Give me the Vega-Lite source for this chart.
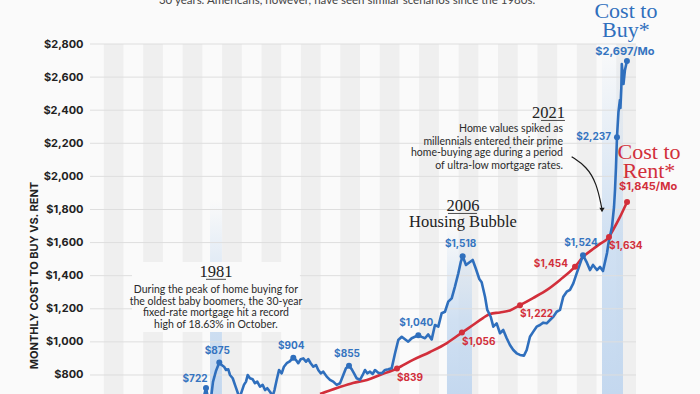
{
  "$schema": "https://vega.github.io/schema/vega-lite/v6.json",
  "width": 546,
  "height": 350,
  "autosize": {"type": "none"},
  "padding": {"left": 90, "top": 44, "right": 64, "bottom": 0},
  "background": "#fafafa",
  "config": {
    "view": {"stroke": null},
    "axisY": {"labelOverlap": false, "labelFlush": false, "labelBound": false, "grid": false, "ticks": false, "tickSize": 0, "domain": false,
      "labelFont": "Inter", "labelFontWeight": 700, "labelFontSize": 11, "labelColor": "#222222", "labelPadding": 7, "tickCount": 11,
      "titleFont": "Inter", "titleFontWeight": 700, "titleFontSize": 11, "titleColor": "#222222"}
  },
  "datasets": {
    "stripes": [
      {"start": 1970, "end": 1972}, {"start": 1974, "end": 1976}, {"start": 1978, "end": 1980},
      {"start": 1982, "end": 1984}, {"start": 1986, "end": 1988}, {"start": 1990, "end": 1992},
      {"start": 1994, "end": 1996}, {"start": 1998, "end": 2000}, {"start": 2002, "end": 2004},
      {"start": 2006, "end": 2008}, {"start": 2010, "end": 2012}, {"start": 2014, "end": 2016},
      {"start": 2018, "end": 2020}, {"start": 2022, "end": 2024}
    ],
    "bands": [
      {"start": 1980.78, "end": 1981.99, "top": 1857},
      {"start": 2004.82, "end": 2007.36, "top": 1700},
      {"start": 2020.55, "end": 2022.68, "top": 2800}
    ],
    "grid": [{"v": 800}, {"v": 1000}, {"v": 1200}, {"v": 1400}, {"v": 1600}, {"v": 1800}, {"v": 2000}, {"v": 2200}, {"v": 2400}, {"v": 2600}, {"v": 2800}],
    "backdrop": [{"t1": 1972.86, "t2": 1989.9, "v1": 1060, "v2": 1483}],
    "arrow": [{"t": 2017.47, "v": 2119}, {"t": 2018.99, "v": 2059}, {"t": 2020.01, "v": 1958}, {"t": 2020.52, "v": 1810}],
    "arrowhead": [{"t": 2020.55, "v": 1797}],
    "buy": [
      {"t":1980.07,"v":649},{"t":1980.37,"v":722},{"t":1980.57,"v":661},{"t":1980.88,"v":661},{"t":1981.08,"v":758},
      {"t":1981.38,"v":824},{"t":1981.72,"v":875},{"t":1981.96,"v":860},{"t":1982.2,"v":850},{"t":1982.4,"v":830},
      {"t":1982.63,"v":834},{"t":1982.8,"v":800},{"t":1983.08,"v":780},{"t":1983.31,"v":740},{"t":1983.55,"v":699},
      {"t":1983.77,"v":661},{"t":1983.99,"v":699},{"t":1984.22,"v":740},{"t":1984.43,"v":760},{"t":1984.6,"v":800},
      {"t":1984.83,"v":780},{"t":1985.11,"v":774},{"t":1985.34,"v":750},{"t":1985.57,"v":760},{"t":1985.85,"v":729},
      {"t":1986.12,"v":740},{"t":1986.36,"v":709},{"t":1986.59,"v":720},{"t":1986.86,"v":699},{"t":1987.14,"v":673},
      {"t":1987.32,"v":709},{"t":1987.54,"v":770},{"t":1987.78,"v":830},{"t":1988.05,"v":810},{"t":1988.28,"v":850},
      {"t":1988.56,"v":871},{"t":1988.82,"v":880},{"t":1989.23,"v":904},{"t":1989.5,"v":891},{"t":1989.73,"v":871},
      {"t":1989.98,"v":895},{"t":1990.24,"v":900},{"t":1990.52,"v":880},{"t":1990.75,"v":895},{"t":1990.99,"v":871},
      {"t":1991.26,"v":850},{"t":1991.53,"v":860},{"t":1991.76,"v":830},{"t":1992.01,"v":810},{"t":1992.27,"v":820},
      {"t":1992.62,"v":790},{"t":1992.95,"v":770},{"t":1993.28,"v":760},{"t":1993.63,"v":740},{"t":1993.97,"v":750},
      {"t":1994.3,"v":800},{"t":1994.57,"v":840},{"t":1994.88,"v":855},{"t":1995.15,"v":835},{"t":1995.39,"v":810},
      {"t":1995.66,"v":780},{"t":1995.99,"v":770},{"t":1996.27,"v":800},{"t":1996.5,"v":830},{"t":1996.73,"v":810},
      {"t":1997.01,"v":820},{"t":1997.28,"v":806},{"t":1997.52,"v":830},{"t":1997.85,"v":814},{"t":1998.2,"v":810},
      {"t":1998.53,"v":830},{"t":1998.87,"v":834},{"t":1999.21,"v":840},{"t":1999.55,"v":931},{"t":1999.88,"v":1011},
      {"t":2000.23,"v":1031},{"t":2000.56,"v":1016},{"t":2000.89,"v":1001},{"t":2001.24,"v":1022},{"t":2001.57,"v":1031},
      {"t":2001.91,"v":1040},{"t":2002.25,"v":1030},{"t":2002.59,"v":1022},{"t":2002.92,"v":1045},{"t":2003.27,"v":1015},
      {"t":2003.6,"v":1102},{"t":2003.94,"v":1092},{"t":2004.28,"v":1173},{"t":2004.62,"v":1182},{"t":2004.95,"v":1243},
      {"t":2005.3,"v":1263},{"t":2005.63,"v":1334},{"t":2005.97,"v":1414},{"t":2006.21,"v":1480},{"t":2006.41,"v":1518},
      {"t":2006.75,"v":1465},{"t":2007.08,"v":1480},{"t":2007.43,"v":1495},{"t":2007.76,"v":1440},{"t":2008.1,"v":1380},
      {"t":2008.34,"v":1360},{"t":2008.68,"v":1273},{"t":2008.91,"v":1193},{"t":2009.26,"v":1152},{"t":2009.52,"v":1092},
      {"t":2009.86,"v":1112},{"t":2010.2,"v":1052},{"t":2010.53,"v":1072},{"t":2010.88,"v":1022},{"t":2011.21,"v":981},
      {"t":2011.55,"v":951},{"t":2011.89,"v":931},{"t":2012.23,"v":921},{"t":2012.63,"v":917},{"t":2012.91,"v":951},
      {"t":2013.24,"v":1031},{"t":2013.58,"v":1062},{"t":2013.92,"v":1092},{"t":2014.26,"v":1102},{"t":2014.59,"v":1116},
      {"t":2014.94,"v":1112},{"t":2015.27,"v":1132},{"t":2015.61,"v":1152},{"t":2015.95,"v":1182},{"t":2016.29,"v":1193},
      {"t":2016.62,"v":1273},{"t":2016.97,"v":1303},{"t":2017.3,"v":1314},{"t":2017.64,"v":1354},{"t":2017.98,"v":1414},
      {"t":2018.32,"v":1471},{"t":2018.62,"v":1524},{"t":2019.03,"v":1477},{"t":2019.33,"v":1434},{"t":2019.64,"v":1465},
      {"t":2020.04,"v":1434},{"t":2020.35,"v":1453},{"t":2020.65,"v":1428},{"t":2021.06,"v":1537},{"t":2021.21,"v":1598},
      {"t":2021.56,"v":1694},{"t":2021.77,"v":1815},{"t":2021.87,"v":1918},{"t":2021.97,"v":2057},{"t":2022.07,"v":2237},
      {"t":2022.22,"v":2389},{"t":2022.37,"v":2462},{"t":2022.42,"v":2413},{"t":2022.51,"v":2534},{"t":2022.56,"v":2679},
      {"t":2022.73,"v":2558},{"t":2022.88,"v":2643},{"t":2023.08,"v":2697}
    ],
    "rent": [
      {"t":1991.94,"v":685},{"t":1993.66,"v":721},{"t":1995.28,"v":752},{"t":1996.7,"v":770},{"t":1998.02,"v":800},
      {"t":1999.75,"v":839},{"t":2001.37,"v":891},{"t":2003.1,"v":939},{"t":2004.82,"v":993},{"t":2006.34,"v":1056},
      {"t":2007.46,"v":1102},{"t":2008.47,"v":1144},{"t":2009.18,"v":1169},{"t":2010.2,"v":1178},{"t":2011.21,"v":1190},
      {"t":2012.23,"v":1222},{"t":2013.55,"v":1265},{"t":2014.97,"v":1314},{"t":2016.29,"v":1374},{"t":2017.81,"v":1454},
      {"t":2018.62,"v":1513},{"t":2019.64,"v":1561},{"t":2020.35,"v":1592},{"t":2021.26,"v":1634},{"t":2021.67,"v":1676},
      {"t":2022.38,"v":1755},{"t":2023.09,"v":1845}
    ],
    "points": [
      {"t":1980.37,"v":722,"series":"buy","label":"$722"},
      {"t":1981.72,"v":875,"series":"buy","label":"$875"},
      {"t":1989.23,"v":904,"series":"buy","label":"$904"},
      {"t":1994.88,"v":855,"series":"buy","label":"$855"},
      {"t":2001.91,"v":1040,"series":"buy","label":"$1,040"},
      {"t":2006.41,"v":1518,"series":"buy","label":"$1,518"},
      {"t":2018.62,"v":1524,"series":"buy","label":"$1,524"},
      {"t":2022.07,"v":2237,"series":"buy","label":"$2,237"},
      {"t":2023.08,"v":2697,"series":"buy","label":"$2,697/Mo"},
      {"t":1999.75,"v":839,"series":"rent","label":"$839"},
      {"t":2006.34,"v":1056,"series":"rent","label":"$1,056"},
      {"t":2012.23,"v":1222,"series":"rent","label":"$1,222"},
      {"t":2017.81,"v":1454,"series":"rent","label":"$1,454"},
      {"t":2021.26,"v":1634,"series":"rent","label":"$1,634"},
      {"t":2023.09,"v":1845,"series":"rent","label":"$1,845/Mo"}
    ],
    "notes": [
      {"kind":"top","t":1994.68,"v":3039,"text":"30 years. Americans, however, have seen similar scenarios since the 1980s."},
      {"kind":"head","t":1981.38,"v":1394,"text":"1981"},
      {"kind":"body","t":1981.38,"v":1314,"text":"During the peak of home buying for"},
      {"kind":"body","t":1981.38,"v":1241,"text":"the oldest baby boomers, the 30-year"},
      {"kind":"body","t":1981.38,"v":1172,"text":"fixed-rate mortgage hit a record"},
      {"kind":"body","t":1981.38,"v":1102,"text":"high of 18.63% in October."},
      {"kind":"head","t":2006.44,"v":1791,"text":"2006"},
      {"kind":"head","t":2006.44,"v":1694,"text":"Housing Bubble"},
      {"kind":"headr","t":2016.79,"v":2353,"text":"2021"},
      {"kind":"bodyr","t":2016.59,"v":2286,"text":"Home values spiked as"},
      {"kind":"bodyr","t":2016.59,"v":2208,"text":"millennials entered their prime"},
      {"kind":"bodyr","t":2016.59,"v":2141,"text":"home-buying age during a period"},
      {"kind":"bodyr","t":2016.59,"v":2063,"text":"of ultra-low mortgage rates."}
    ],
    "underlines": [
      {"t1": 1980.37, "t2": 1982.4, "v": 1378},
      {"t1": 2004.92, "t2": 2007.86, "v": 1776},
      {"t1": 2014.36, "t2": 2016.79, "v": 2338}
    ]
  },
  "layer": [
    {
      "data": {"name": "grid"},
      "mark": {"type": "rule", "color": "#dedede", "strokeWidth": 1, "opacity": 0},
      "encoding": {
        "x": {"datum": 1968.6, "type": "quantitative", "scale": {"domain": [1968.6, 2024], "nice": false, "zero": false}, "axis": null},
        "x2": {"datum": 2024},
        "y": {"field": "v", "type": "quantitative", "scale": {"domain": [685, 2800], "nice": false, "zero": false}, "axis": {
          "values": [800, 1000, 1200, 1400, 1600, 1800, 2000, 2200, 2400, 2600, 2800],
          "format": "$,d", "labelOverlap": false, "tickCount": 11,
          "title": "MONTHLY COST TO BUY VS. RENT", "titleX": -56, "titleY": 231, "titleAngle": -90, "titleAlign": "center", "titleBaseline": "middle"
        }}
      }
    },
    {
      "data": {"name": "stripes"},
      "mark": {"type": "rect", "color": "#efefef"},
      "encoding": {
        "x": {"field": "start", "type": "quantitative", "axis": null},
        "x2": {"field": "end"},
        "y": {"datum": 2800, "type": "quantitative"},
        "y2": {"datum": 685}
      }
    },
    {
      "data": {"name": "bands"},
      "mark": {"type": "rect", "color": {"gradient": "linear", "x1": 0, "y1": 0, "x2": 0, "y2": 1, "stops": [
        {"offset": 0, "color": "rgba(198,218,240,0)"},
        {"offset": 0.55, "color": "rgba(198,218,240,0.8)"},
        {"offset": 1, "color": "rgba(196,216,239,1)"}
      ]}},
      "encoding": {
        "x": {"field": "start", "type": "quantitative", "axis": null},
        "x2": {"field": "end"},
        "y": {"field": "top", "type": "quantitative"},
        "y2": {"datum": 685}
      }
    },
    {
      "data": {"name": "grid"},
      "mark": {"type": "rule", "color": "#dedede", "strokeWidth": 1},
      "encoding": {
        "x": {"datum": 1968.6, "type": "quantitative", "axis": null},
        "x2": {"datum": 2024},
        "y": {"field": "v", "type": "quantitative"}
      }
    },
    {
      "data": {"name": "backdrop"},
      "mark": {"type": "rect", "color": "#fafafa"},
      "encoding": {
        "x": {"field": "t1", "type": "quantitative", "axis": null},
        "x2": {"field": "t2"},
        "y": {"field": "v1", "type": "quantitative"},
        "y2": {"field": "v2"}
      }
    },
    {
      "data": {"name": "arrow"},
      "mark": {"type": "line", "color": "#1a1a1a", "strokeWidth": 1.2, "interpolate": "basis"},
      "encoding": {
        "x": {"field": "t", "type": "quantitative", "axis": null},
        "y": {"field": "v", "type": "quantitative"}
      }
    },
    {
      "data": {"name": "arrowhead"},
      "mark": {"type": "point", "shape": "triangle-down", "filled": true, "color": "#1a1a1a", "size": 28, "opacity": 1},
      "encoding": {
        "x": {"field": "t", "type": "quantitative", "axis": null},
        "y": {"field": "v", "type": "quantitative"}
      }
    },
    {
      "data": {"name": "rent"},
      "mark": {"type": "line", "color": "#d22f3b", "strokeWidth": 2.6, "interpolate": "monotone", "clip": true},
      "encoding": {
        "x": {"field": "t", "type": "quantitative", "axis": null},
        "y": {"field": "v", "type": "quantitative"}
      }
    },
    {
      "data": {"name": "buy"},
      "mark": {"type": "line", "color": "#2f6fbd", "strokeWidth": 2.6, "clip": true, "strokeJoin": "round"},
      "encoding": {
        "x": {"field": "t", "type": "quantitative", "axis": null},
        "y": {"field": "v", "type": "quantitative"}
      }
    },
    {
      "data": {"name": "points"},
      "mark": {"type": "circle", "size": 36, "opacity": 1},
      "encoding": {
        "x": {"field": "t", "type": "quantitative", "axis": null},
        "y": {"field": "v", "type": "quantitative"},
        "color": {"field": "series", "type": "nominal", "scale": {"domain": ["buy", "rent"], "range": ["#2f6fbd", "#d22f3b"]}, "legend": null}
      }
    },
    {
      "data": {"name": "points"},
      "transform": [{"filter": {"field": "label", "oneOf": ["$875", "$904", "$855", "$1,040", "$1,518", "$1,524"]}}],
      "mark": {"type": "text", "font": "Inter", "fontWeight": 700, "fontSize": 10, "color": "#3574c0", "dx": -2, "dy": -12, "align": "center", "baseline": "middle"},
      "encoding": {
        "x": {"field": "t", "type": "quantitative", "axis": null},
        "y": {"field": "v", "type": "quantitative"},
        "text": {"field": "label"}
      }
    },
    {
      "data": {"name": "points"},
      "transform": [{"filter": {"field": "label", "equal": "$722"}}],
      "mark": {"type": "text", "font": "Inter", "fontWeight": 700, "fontSize": 10, "color": "#3574c0", "dx": -11, "dy": -9, "align": "center", "baseline": "middle"},
      "encoding": {
        "x": {"field": "t", "type": "quantitative", "axis": null},
        "y": {"field": "v", "type": "quantitative"},
        "text": {"field": "label"}
      }
    },
    {
      "data": {"name": "points"},
      "transform": [{"filter": {"field": "label", "equal": "$2,237"}}],
      "mark": {"type": "text", "font": "Inter", "fontWeight": 700, "fontSize": 10, "color": "#3574c0", "dx": -6, "dy": 0, "align": "right", "baseline": "middle"},
      "encoding": {
        "x": {"field": "t", "type": "quantitative", "axis": null},
        "y": {"field": "v", "type": "quantitative"},
        "text": {"field": "label"}
      }
    },
    {
      "data": {"name": "points"},
      "transform": [{"filter": {"field": "label", "oneOf": ["$839", "$1,056", "$1,222", "$1,634"]}}],
      "mark": {"type": "text", "font": "Inter", "fontWeight": 700, "fontSize": 10, "color": "#d22f3b", "dx": 0, "dy": 9, "align": "left", "baseline": "middle"},
      "encoding": {
        "x": {"field": "t", "type": "quantitative", "axis": null},
        "y": {"field": "v", "type": "quantitative"},
        "text": {"field": "label"}
      }
    },
    {
      "data": {"name": "points"},
      "transform": [{"filter": {"field": "label", "equal": "$1,454"}}],
      "mark": {"type": "text", "font": "Inter", "fontWeight": 700, "fontSize": 10, "color": "#d22f3b", "dx": -7, "dy": -3, "align": "right", "baseline": "middle"},
      "encoding": {
        "x": {"field": "t", "type": "quantitative", "axis": null},
        "y": {"field": "v", "type": "quantitative"},
        "text": {"field": "label"}
      }
    },
    {
      "data": {"name": "points"},
      "transform": [{"filter": {"field": "label", "equal": "$2,697/Mo"}}],
      "mark": {"type": "text", "font": "Inter", "fontWeight": 700, "fontSize": 11, "color": "#3574c0", "dx": -2, "dy": -9.5, "align": "center", "baseline": "middle"},
      "encoding": {
        "x": {"field": "t", "type": "quantitative", "axis": null},
        "y": {"field": "v", "type": "quantitative"},
        "text": {"field": "label"}
      }
    },
    {
      "data": {"name": "points"},
      "transform": [{"filter": {"field": "label", "equal": "$1,845/Mo"}}],
      "mark": {"type": "text", "font": "Inter", "fontWeight": 700, "fontSize": 11, "color": "#d22f3b", "dx": 21, "dy": -15, "align": "center", "baseline": "middle"},
      "encoding": {
        "x": {"field": "t", "type": "quantitative", "axis": null},
        "y": {"field": "v", "type": "quantitative"},
        "text": {"field": "label"}
      }
    },
    {
      "data": {"name": "points"},
      "transform": [{"filter": {"field": "label", "equal": "$2,697/Mo"}}],
      "mark": {"type": "text", "font": "Liberation Serif", "fontSize": 22, "color": "#2f6fbd", "dx": -1, "dy": -43, "align": "center", "baseline": "alphabetic", "lineHeight": 19, "text": ["Cost to", "Buy*"]},
      "encoding": {
        "x": {"field": "t", "type": "quantitative", "axis": null},
        "y": {"field": "v", "type": "quantitative"}
      }
    },
    {
      "data": {"name": "points"},
      "transform": [{"filter": {"field": "label", "equal": "$1,845/Mo"}}],
      "mark": {"type": "text", "font": "Liberation Serif", "fontSize": 22, "color": "#d22f3b", "dx": 22, "dy": -43, "align": "center", "baseline": "alphabetic", "lineHeight": 18.5, "text": ["Cost to", "Rent*"]},
      "encoding": {
        "x": {"field": "t", "type": "quantitative", "axis": null},
        "y": {"field": "v", "type": "quantitative"}
      }
    },
    {
      "data": {"name": "notes"},
      "transform": [{"filter": {"field": "kind", "equal": "top"}}],
      "mark": {"type": "text", "font": "Lato", "fontSize": 11.5, "color": "#444444", "align": "center", "baseline": "alphabetic"},
      "encoding": {
        "x": {"field": "t", "type": "quantitative", "axis": null},
        "y": {"field": "v", "type": "quantitative"},
        "text": {"field": "text"}
      }
    },
    {
      "data": {"name": "notes"},
      "transform": [{"filter": {"field": "kind", "equal": "head"}}],
      "mark": {"type": "text", "font": "Liberation Serif", "fontSize": 16.5, "color": "#222222", "align": "center", "baseline": "alphabetic"},
      "encoding": {
        "x": {"field": "t", "type": "quantitative", "axis": null},
        "y": {"field": "v", "type": "quantitative"},
        "text": {"field": "text"}
      }
    },
    {
      "data": {"name": "notes"},
      "transform": [{"filter": {"field": "kind", "equal": "headr"}}],
      "mark": {"type": "text", "font": "Liberation Serif", "fontSize": 16.5, "color": "#222222", "align": "right", "baseline": "alphabetic"},
      "encoding": {
        "x": {"field": "t", "type": "quantitative", "axis": null},
        "y": {"field": "v", "type": "quantitative"},
        "text": {"field": "text"}
      }
    },
    {
      "data": {"name": "notes"},
      "transform": [{"filter": {"field": "kind", "equal": "body"}}],
      "mark": {"type": "text", "font": "Lato", "fontSize": 10.5, "color": "#2b2b2b", "align": "center", "baseline": "middle"},
      "encoding": {
        "x": {"field": "t", "type": "quantitative", "axis": null},
        "y": {"field": "v", "type": "quantitative"},
        "text": {"field": "text"}
      }
    },
    {
      "data": {"name": "notes"},
      "transform": [{"filter": {"field": "kind", "equal": "bodyr"}}],
      "mark": {"type": "text", "font": "Lato", "fontSize": 10.5, "color": "#2b2b2b", "align": "right", "baseline": "middle"},
      "encoding": {
        "x": {"field": "t", "type": "quantitative", "axis": null},
        "y": {"field": "v", "type": "quantitative"},
        "text": {"field": "text"}
      }
    },
    {
      "data": {"name": "underlines"},
      "mark": {"type": "rule", "color": "#222222", "strokeWidth": 0.8},
      "encoding": {
        "x": {"field": "t1", "type": "quantitative", "axis": null},
        "x2": {"field": "t2"},
        "y": {"field": "v", "type": "quantitative"}
      }
    }
  ]
}
